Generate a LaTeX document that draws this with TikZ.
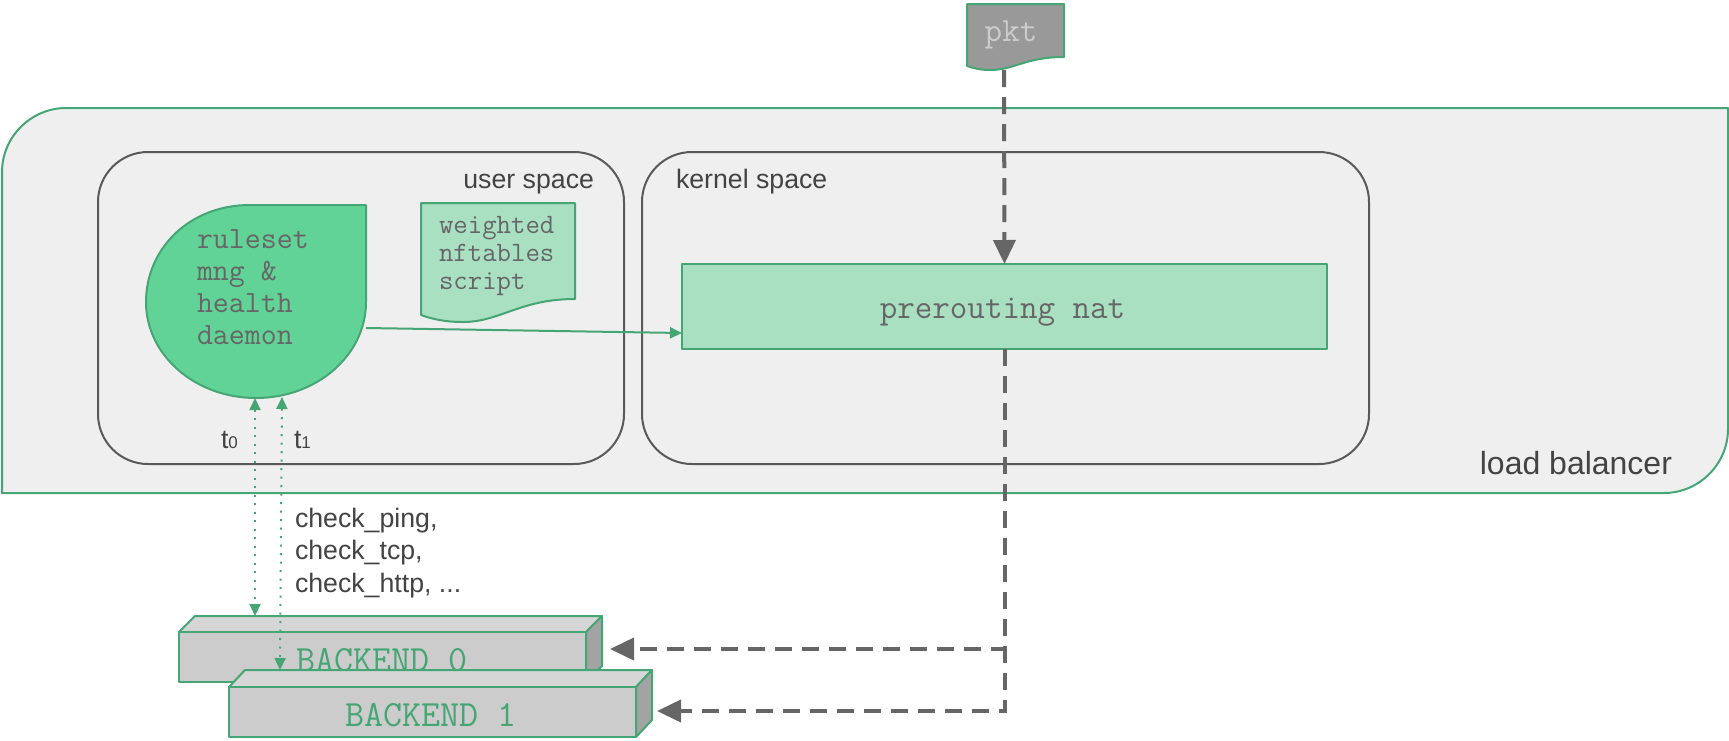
\documentclass[tikz,border=0pt]{standalone}
\usepackage{fontspec}
\setmainfont{Liberation Sans}
\usetikzlibrary{arrows.meta}
\definecolor{grn}{HTML}{45A574}
\definecolor{lbfill}{HTML}{EFEFEF}
\definecolor{dmn}{HTML}{61D396}
\definecolor{lgt}{HTML}{A9E0C2}
\definecolor{edge}{HTML}{595959}
\definecolor{ink}{HTML}{434343}
\definecolor{monoink}{HTML}{666666}
\definecolor{dash}{HTML}{666666}
\newcommand{\fsz}[2]{\fontsize{#1}{#2}\selectfont}
\tikzset{
  outline/.style={draw=grn,line width=2pt,line join=round},
  panel/.style={draw=edge,line width=2pt,rounded corners=50pt,inner sep=0pt,outer sep=0pt},
  greenbox/.style={outline,inner sep=0pt,outer sep=0pt},
  label/.style={inner sep=0pt,outer sep=0pt,text=ink,font=\fsz{26.7}{32.5}},
  mono/.style={inner sep=0pt,outer sep=0pt,text=monoink},
  packetflow/.style={draw=dash,line width=4pt,dash pattern=on 17pt off 10pt,-{Triangle[length=24pt,width=22pt]}},
  probe/.style={draw=grn,line width=2pt,dash pattern=on 2pt off 6.5pt,{Triangle[length=12pt,width=11pt]}-{Triangle[length=12pt,width=11pt]}},
  control/.style={draw=grn,line width=2pt,-{Triangle[length=12pt,width=11pt]}},
}
\begin{document}
\begin{tikzpicture}[x=1pt,y=-1pt]
\useasboundingbox (0,0) rectangle (1729,740);
% load balancer
\draw[outline,fill=lbfill] (2,493) -- (2,172) .. controls (2,137) and (31,108) .. (66,108) -- (1728,108) -- (1728,429) .. controls (1728,464) and (1699,493) .. (1664,493) -- cycle;
\node[label,anchor=base east] (lbl) at (1672,474) {\fsz{32}{32}load balancer};
% spaces
\node[panel,minimum width=526pt,minimum height=312pt] (user) at (361,308) {};
\node[panel,minimum width=727pt,minimum height=312pt] (kernel) at (1005.5,308) {};
\node[label,anchor=base east] (userl) at (594,188) {user space};
\node[label,anchor=base west] (kernell) at (676,188) {kernel space};
% script document
\draw[outline,fill=lgt] (421,203) -- (575,203) -- (575,299) .. controls (520,299) and (500,322) .. (463,322) .. controls (445,322) and (432,319) .. (421,315) -- cycle;
\node[mono,anchor=base west,align=left,font=\ttfamily\fsz{28}{28}] (script) at (439,289) {weighted\\nftables\\script};
% daemon
\draw[outline,fill=dmn] (250,205) -- (366,205) -- (366,302) .. controls (366,355) and (317,398) .. (256,398) .. controls (195,398) and (146,355) .. (146,302) .. controls (146,249) and (189,205) .. (250,205) -- cycle;
\node[mono,anchor=base west,align=left,font=\ttfamily\fsz{31}{32}] (daemon) at (197,344) {ruleset\\mng \&\\health\\daemon};
\coordinate (daemonout) at (366,328);
\coordinate (t0top) at (255,398);
\coordinate (t1top) at (282,397);
% prerouting
\node[greenbox,fill=lgt,minimum width=645pt,minimum height=85pt] (prer) at (1004.5,306.5) {};
\node[mono,font=\ttfamily\fsz{34}{36},anchor=base] (prert) at (1002.5,318) {prerouting nat};
\coordinate (prerin) at (682,333);
% pkt document
\draw[outline,fill=black!40] (967,4) -- (1064,4) -- (1064,57) .. controls (1025,57) and (1015,70) .. (990,70) .. controls (980,70) and (973,68) .. (967,66) -- cycle;
\node[mono,text=black!20,font=\ttfamily\fsz{34}{36},anchor=base] (pkt) at (1011,41) {pkt};
\coordinate (pktout) at (1004,70);
% backend 0
\draw[outline,fill=black!16] (179,632) -- (195,616) -- (602,616) -- (586,632) -- cycle;
\draw[outline,fill=black!36] (586,632) -- (602,616) -- (602,666) -- (586,682) -- cycle;
\node[greenbox,fill=black!20,minimum width=407pt,minimum height=50pt] (b0) at (382.5,657) {};
\node[mono,text=grn,font=\ttfamily\fsz{37}{38},anchor=base] (b0t) at (382,671) {BACKEND 0};
\coordinate (b0port) at (610,649);
\coordinate (t0bot) at (255,616);
% backend 1
\draw[outline,fill=black!16] (229,687) -- (245,670) -- (652,670) -- (636,687) -- cycle;
\draw[outline,fill=black!36] (636,687) -- (652,670) -- (652,720) -- (636,737) -- cycle;
\node[greenbox,fill=black!20,minimum width=407pt,minimum height=50pt] (b1) at (432.5,712) {};
\node[mono,text=grn,font=\ttfamily\fsz{37}{38},anchor=base] (b1t) at (431,726) {BACKEND 1};
\coordinate (b1port) at (657,711);
\coordinate (t1bot) at (280,670);
% connectors
\draw[packetflow] (pktout) -- (prer.north);
\draw[packetflow] (prer.south) |- (b0port);
\draw[packetflow] (prer.south) |- (b1port);
\draw[control] (daemonout) -- (prerin);
\draw[probe] (t0top) -- (t0bot);
\draw[probe] (t1top) -- (t1bot);
% probe labels
\node[label,anchor=base west] (t0) at (221,448) {t\fsz{17}{20}0};
\node[label,anchor=base west] (t1) at (294,448) {t\fsz{17}{20}1};
\node[label,anchor=base west,align=left] (checks) at (295,592) {check\_ping,\\check\_tcp,\\check\_http, ...};
\end{tikzpicture}
\end{document}
